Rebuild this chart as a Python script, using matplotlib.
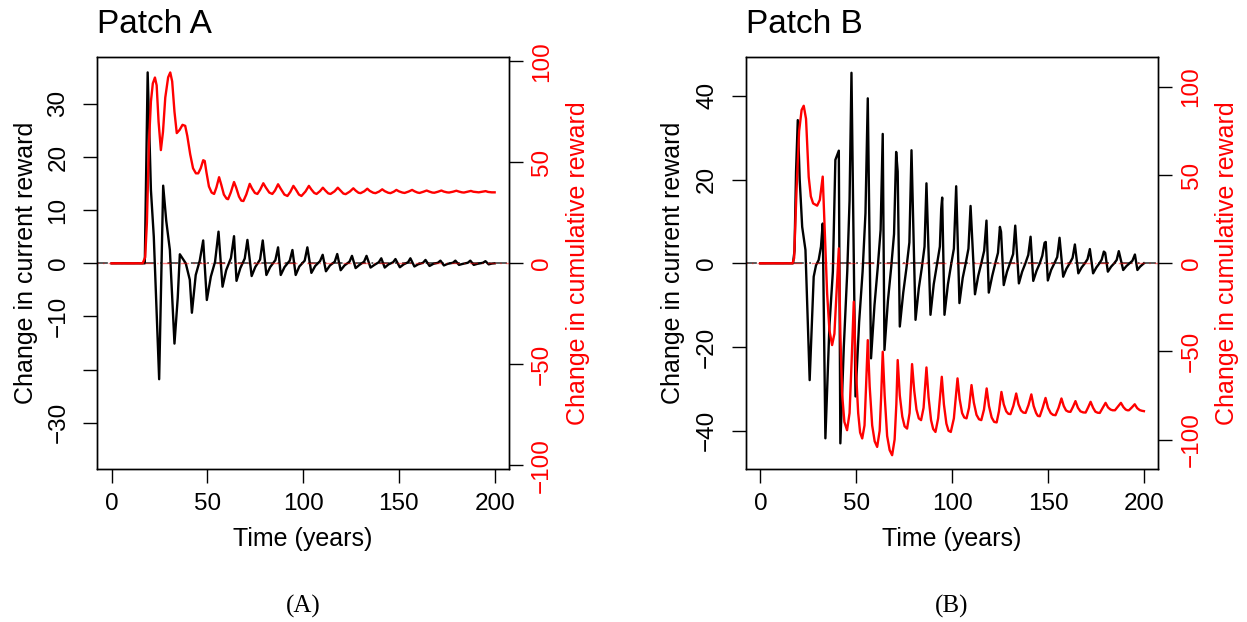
import matplotlib.pyplot as plt

plt.rcParams['font.family'] = ['Liberation Sans', 'DejaVu Sans']

# ---- Patch A: change in current reward (black, left axis)
tA_cur = [0, 17.3, 18.8, 20.5, 22.0, 24.8, 26.9, 28.5, 30.4, 32.8, 34.5, 35.6, 38.7, 40.8, 41.9,
          43.9, 46.0, 47.8, 49.7, 51.8, 54.0, 55.8, 57.9, 59.8, 62.3, 63.9, 65.2, 67.2, 69.5, 70.9,
          73.1, 75.0, 77.5, 78.9, 80.8, 82.8, 85.5, 86.9, 88.3, 90.3, 93.0, 94.4, 96.1, 98.0, 100.8,
          102.2, 104.3, 106.3, 108.8, 110.2, 111.9, 114.0, 116.5, 117.8, 119.6, 121.6, 124.2, 125.5,
          127.4, 129.4, 131.8, 133.1, 135.2, 137.2, 139.5, 140.8, 142.6, 144.6, 147.0, 148.2, 150.5,
          152.5, 154.8, 156.0, 158.1, 160.0, 162.6, 163.9, 166.0, 168.0, 170.4, 171.7, 173.5, 175.5,
          178.2, 179.5, 181.4, 183.4, 186.0, 187.3, 189.1, 191.0, 193.9, 195.2, 196.9, 198.5, 200]
vA_cur = [0, 0, 35.9, 13.8, 5.0, -21.8, 14.6, 8.0, 2.5, -15.1, -6.5, 1.7, 0, -3.1, -9.3,
          -2.2, 0.5, 4.3, -6.9, -2.5, 0.3, 5.95, -4.4, -1.3, 1.0, 5.1, -3.3, -0.9, 0.9, 4.4,
          -2.4, -0.7, 0.7, 4.3, -2.2, -0.7, 0.6, 3.0, -2.2, -0.7, 0.5, 2.5, -2.2, -0.6, 0.5,
          3.0, -1.8, -0.5, 0.4, 1.6, -1.5, -0.4, 0.3, 1.75, -1.3, -0.4, 0.3, 1.4,
          -0.9, -0.3, 0.3, 1.4, -0.8, -0.3, 0.2, 0.94, -0.8, -0.2, 0.2, 0.8, -0.75,
          -0.2, 0.2, 0.94, -0.6, -0.2, 0.1, 0.63, -0.5, -0.1, 0.1, 0.5, -0.4, -0.1,
          0.1, 0.5, -0.3, -0.1, 0.1, 0.5, -0.3, -0.1, 0.1, 0.4, -0.2, -0.05, 0]

# ---- Patch A: change in cumulative reward (red, right axis)
tA_cum = [0, 16.2, 17.5, 18.4, 19.5, 20.5, 21.5, 22.6, 23.5, 24.5, 25.7, 26.8, 28.0, 29.5, 30.6,
          31.6, 32.8, 34.0, 35.5, 37.0, 38.4, 39.5, 41.0, 42.5, 44.0, 45.2, 46.5, 47.8, 48.6, 49.5,
          50.8, 52.2, 53.5, 54.7, 56.1, 57.2, 58.6, 60.0, 60.8, 62.2, 63.9, 65.0, 66.5, 67.7, 68.8,
          70.3, 72.1, 73.3, 74.8, 76.1, 77.5, 79.2, 80.5, 82.3, 83.9, 85.3, 86.9, 88.2, 90.2, 91.8,
          93.3, 94.9, 96.2, 97.8, 99.1, 101.2, 103.0, 104.3, 105.8, 107.0, 108.8, 110.3, 111.6,
          113.1, 114.3, 116.4, 118.1, 119.4, 121.0, 122.2, 124.4, 126.2, 127.5, 128.9, 130.0,
          131.9, 133.5, 134.8, 136.6, 137.8, 139.7, 141.3, 142.6, 144.4, 145.6, 147.3, 148.7,
          150.0, 151.8, 153.0, 155.1, 156.9, 158.2, 159.7, 160.8, 162.8, 164.5, 165.8, 167.4,
          168.5, 170.4, 172.2, 173.4, 175.1, 176.2, 178.2, 180.0, 181.3, 182.9, 184.0, 185.9,
          187.6, 188.9, 190.6, 191.7, 193.6, 195.3, 196.6, 198.5, 200]
vA_cum = [0, 0, 3, 20, 60, 80, 89, 91.9, 88, 70, 56, 65, 82, 92, 94.4,
          90, 75, 64.4, 66, 68.5, 68, 63, 54, 47, 44.5, 44.5, 47, 51, 50.6, 45,
          38, 35, 34.3, 37.5, 42.6, 39, 34, 32, 31.7, 35, 40.2, 37.5, 33, 31, 30.8,
          34, 39.3, 37, 34.8, 34.3, 36.3, 39.6, 37.5, 35, 34.3, 36, 39.1, 37, 34, 33.3,
          35.3, 38.3, 36.5, 34, 33.3, 35.5, 38.3, 36.5, 34.8, 34.3, 35.7, 37.4, 36,
          34.6, 34.3, 35.6, 37.4, 36.1, 34.5, 34.2, 35.5, 37.1, 35.9, 34.9, 34.7,
          35.6, 36.9, 35.8, 34.9, 34.7, 35.5, 36.6, 35.7, 34.9, 34.7, 35.4, 36.3,
          35.6, 35.0, 34.8, 35.5, 36.3, 35.6, 35.0, 34.8, 35.4, 36.0, 35.5, 35.0,
          34.9, 35.4, 36.0, 35.5, 35.1, 35.0, 35.4, 35.9, 35.5, 35.1, 35.0, 35.4,
          35.8, 35.4, 35.2, 35.1, 35.4, 35.7, 35.3, 35.1, 35.1]

# ---- Patch B: change in current reward (black, left axis)
tB_cur = [0, 17.0, 17.8, 18.6, 19.5, 20.5, 21.8, 23.5, 25.7, 27.8, 29.0, 30.4, 31.6, 32.5, 33.9,
          36.0, 37.8, 39.1, 40.9, 41.7, 43.5, 45.3, 46.5, 47.5, 49.6, 51.5, 53.3, 54.8, 56.0,
          57.7, 59.5, 61.2, 62.7, 63.8, 64.7, 66.5, 68.2, 69.7, 70.8, 71.6, 72.7, 74.5, 76.2,
          77.7, 78.8, 80.9, 82.6, 84.2, 85.6, 86.6, 88.7, 90.4, 92.0, 93.6, 94.3, 94.8, 96.0,
          97.8, 99.4, 100.9, 102.1, 103.8, 105.5, 107.2, 108.5, 109.6, 111.9, 113.6, 115.2,
          116.7, 117.9, 119.1, 120.9, 122.5, 123.9, 124.9, 125.5, 126.9, 128.6, 130.3, 131.8,
          132.9, 134.8, 136.5, 138.2, 139.7, 140.9, 142.3, 144.0, 145.7, 147.0, 148.2, 148.8,
          149.9, 151.6, 153.3, 154.8, 156.0, 157.9, 159.6, 161.3, 162.8, 164.0, 165.8, 167.5,
          169.2, 170.6, 171.8, 173.5, 175.2, 176.8, 178.0, 179.1, 179.8, 181.2, 182.9, 184.5,
          185.8, 186.9, 189.2, 190.8, 192.5, 194.0, 195.3, 196.6, 198.0, 200]
vB_cur = [0, 0, 3, 22, 34.2, 20, 8.7, 3.2, -27.9, -3.2, -0.5, 0.8, 4, 9.5, -41.8,
          -15, -2, 24.7, 26.9, -43, -20, -2, 15, 45.5, -31.8, -14, -2, 12, 39.4,
          -22.7, -10, -1, 8, 30.9, -20.7, -9, -1, 7, 26.6, 21.9, -15.1, -7, -1,
          5, 27, -13.5, -6, -1, 4, 19.1, -12.3, -5, -0.5, 4, 13, 15.7, -12.3,
          -5, -0.5, 3.5, 18.4, -9.5, -3.5, 0.3, 3.5, 13.7, -7.4, -3, 0,
          3, 10.2, -7.0, -3, 0, 2.5, 8.7, 7.5, -5.2, -2, 0.2, 2.2,
          9.0, -4.8, -2, 0, 2, 6.35, -4.2, -1.8, 0, 1.8, 4.9, 5.1,
          -4.1, -1.6, 0, 1.5, 6.1, -3.2, -1.3, 0, 1.3, 4.5, -2.4, -1,
          0, 1, 3.4, -2.4, -1, 0, 0.9, 2.8, 2.5, -2.0, -0.8, 0,
          0.8, 2.9, -1.6, -0.7, 0, 0.6, 2.1, -1.6, -0.8, 0]

# ---- Patch B: change in cumulative reward (red, right axis)
tB_cum = [0, 16.8, 17.6, 18.8, 20.2, 21.5, 22.6, 23.8, 25.2, 26.3, 27.5, 29.6, 31.0, 32.5, 33.5,
          34.8, 36.0, 37.4, 38.6, 39.8, 40.9, 41.7, 42.6, 43.8, 45.2, 46.5, 47.6, 48.7, 49.8,
          51.0, 52.0, 53.1, 54.3, 55.1, 56.0, 57.0, 58.3, 59.6, 60.9, 62.2, 63.0, 63.8, 64.8,
          66.1, 67.4, 68.7, 70.0, 70.9, 71.6, 72.7, 74.0, 75.2, 76.5, 77.8, 79.1, 80.2, 81.4,
          82.6, 83.8, 85.1, 86.6, 87.7, 89.0, 90.1, 91.3, 92.7, 94.6, 95.7, 97.0, 98.1, 99.3,
          100.9, 102.8, 103.9, 105.2, 106.3, 107.5, 108.8, 110.1, 111.3, 112.7, 114.0, 115.2,
          116.6, 118.0, 119.2, 120.6, 121.9, 123.2, 124.4, 125.7, 126.9, 128.2, 129.3, 130.4,
          131.9, 133.4, 134.6, 135.9, 137.1, 138.3, 139.8, 141.3, 142.5, 143.8, 144.7, 145.7,
          147.2, 148.7, 150.0, 151.4, 152.6, 153.9, 155.5, 157.0, 158.2, 159.4, 160.6, 161.7,
          163.0, 164.3, 165.6, 166.9, 168.3, 169.6, 170.9, 172.2, 173.5, 174.7, 175.9, 177.0,
          178.5, 180.0, 181.3, 182.6, 183.7, 184.9, 186.4, 188.0, 189.3, 190.5, 191.4, 192.2,
          193.7, 195.2, 196.5, 197.8, 199.0, 200]
vB_cum = [0, 0, 3, 40, 75, 87, 89.4, 82, 49, 38, 34, 32.7, 36, 49.2, 20,
          -17, -38, -46.4, -40, -15, 8.5, -40, -74, -90, -94.7, -85, -55, -21.8, -60,
          -85, -96, -99.4, -92, -70, -43.6, -70, -92, -101, -104.2, -95, -75, -50.2, -75,
          -98, -106, -108.9, -100, -80, -54.9, -75, -87, -92.5, -93.8, -85, -57.2, -72, -83,
          -88, -89, -82, -59.1, -76, -89, -94, -95.7, -88, -64.4, -80, -91, -95, -95.7,
          -88, -65.3, -77, -85, -87.5, -88, -82, -69.1, -79, -86, -88.5, -89,
          -83, -71, -81, -87.5, -90, -90.3, -84, -73, -80, -84, -85.4, -85.6,
          -81, -73.9, -80, -83.5, -84.7, -84.9, -80.5, -74.4, -81, -85, -86.6, -86.8,
          -82, -76.4, -82, -85, -86, -86.2, -82, -76.7, -81, -83.5, -84.2, -84.3,
          -81.5, -78.2, -82, -84, -84.6, -84.7, -81.8, -78.6, -82, -84.2, -84.8, -84.9,
          -82, -79.2, -81.8, -83, -83.4, -83.4, -81.4, -79.2, -81.6, -83, -83.4, -83.4,
          -81.8, -80, -82.2, -83.3, -83.7, -83.9]

x_ticks = [0, 50, 100, 150, 200]
yA_ticks = [30, 20, 10, 0, -10, -20, -30]
yA_labels = ['30', '20', '10', '0', '\u221210', '', '\u221230']
yB_ticks = [40, 20, 0, -20, -40]
yB_labels = ['40', '20', '0', '\u221220', '\u221240']
cum_ticks = [100, 50, 0, -50, -100]
cum_labels = ['100', '50', '0', '\u221250', '\u2212100']


def draw_panel(ax, t_cur, v_cur, t_cum, v_cum, ylim_cur, ylim_cum, yticks, ylabels):
    ax.axhline(0, color='0.3', lw=1.3, ls=(0, (6, 3, 1, 3)), zorder=1)
    ax.plot(t_cur, v_cur, color='black', lw=1.7, zorder=2)
    ax.set_xlim(-7.5, 207.5)
    ax.set_ylim(-ylim_cur, ylim_cur)
    ax.set_xticks(x_ticks)
    ax.set_yticks(yticks, ylabels)
    ax.tick_params(direction='out', length=10, width=1, labelsize=17.5)
    ax.tick_params(axis='x', pad=7)
    ax.tick_params(axis='y', pad=10)
    for lbl in ax.get_yticklabels():
        lbl.set_rotation(90)
        lbl.set_va('center')

    ax2 = ax.twinx()
    ax2.axhline(0, color='red', lw=1.0, alpha=0.5, ls=(5, (6, 3, 1, 3)), zorder=1)
    ax2.plot(t_cum, v_cum, color='red', lw=1.7, zorder=2)
    ax2.set_ylim(-ylim_cum, ylim_cum)
    ax2.set_yticks(cum_ticks, cum_labels)
    ax2.tick_params(direction='out', length=10, width=1, labelsize=17.5,
                    labelcolor='red', pad=6)
    for lbl in ax2.get_yticklabels():
        lbl.set_rotation(90)
        lbl.set_va('center')
    for a in (ax, ax2):
        for s in a.spines.values():
            s.set_linewidth(1.0)
    return ax2


fig = plt.figure(figsize=(12.47, 6.22), dpi=100)
W, H = 1247.0, 622.0

axA = fig.add_axes([97.3 / W, 1 - 469.3 / H, 411.7 / W, 412 / H])
axB = fig.add_axes([746 / W, 1 - 469.3 / H, 412.3 / W, 412 / H])

draw_panel(axA, tA_cur, vA_cur, tA_cum, vA_cum, 38.74, 101.9, yA_ticks, yA_labels)
draw_panel(axB, tB_cur, vB_cur, tB_cum, vB_cum, 49.2, 116.9, yB_ticks, yB_labels)

# titles and axis labels
fig.text(96.5 / W, 1 - 33.3 / H, 'Patch A', fontsize=24, ha='left', va='baseline')
fig.text(745.5 / W, 1 - 33.3 / H, 'Patch B', fontsize=24, ha='left', va='baseline')

for xc, xl, xr in [(303, 26, 578), (952, 673, 1227)]:
    fig.text(xc / W, 1 - 539 / H, 'Time (years)', fontsize=18, ha='center', va='center')
    fig.text(xl / W, 1 - 263 / H, 'Change in current reward', fontsize=18,
             rotation=90, ha='center', va='center')
    fig.text(xr / W, 1 - 263 / H, 'Change in cumulative reward', fontsize=18,
             rotation=90, ha='center', va='center', color='red')

fig.text(303 / W, 1 - 606 / H, '(A)', fontsize=18, ha='center', va='center',
         family='Liberation Serif')
fig.text(952 / W, 1 - 606 / H, '(B)', fontsize=18, ha='center', va='center',
         family='Liberation Serif')

fig.savefig('out.png', dpi=100)
